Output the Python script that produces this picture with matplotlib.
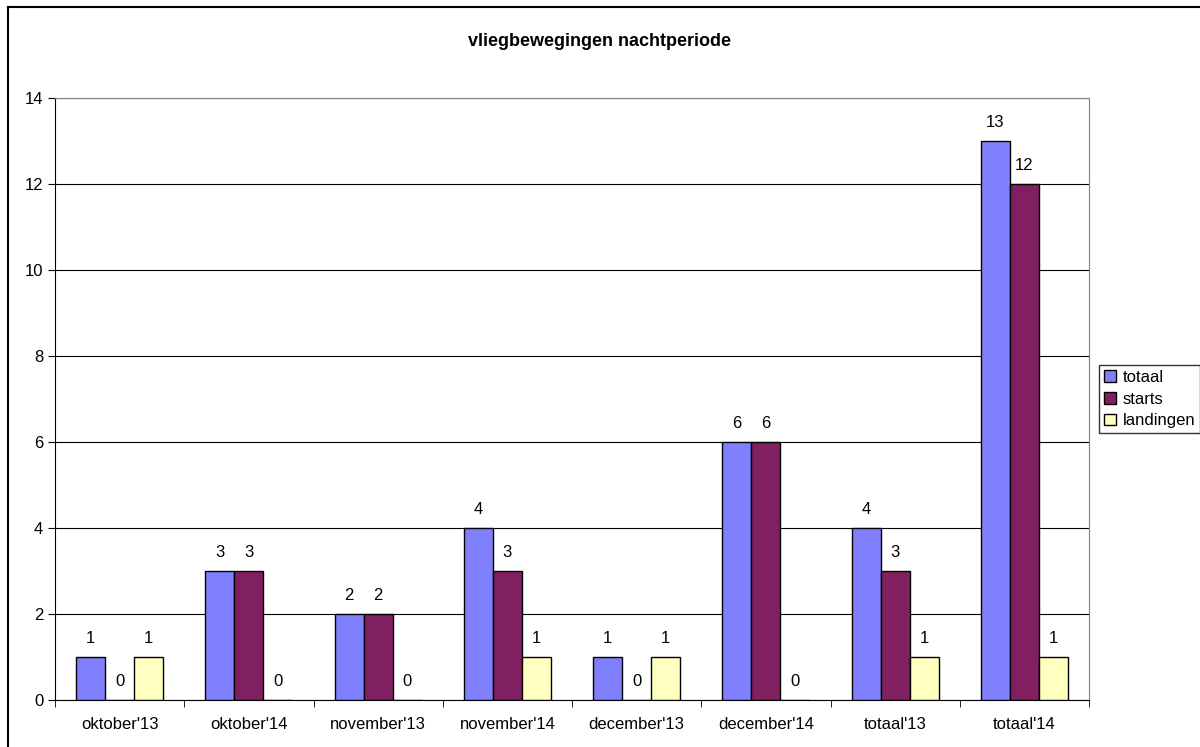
import matplotlib.pyplot as plt
import numpy as np
from matplotlib.lines import Line2D

categories = ["oktober'13", "oktober'14", "november'13", "november'14",
              "december'13", "december'14", "totaal'13", "totaal'14"]
totaal = [1, 3, 2, 4, 1, 6, 4, 13]
starts = [0, 3, 2, 3, 0, 6, 3, 12]
landingen = [1, 0, 0, 1, 1, 0, 1, 1]

plt.rcParams['font.family'] = ['Liberation Sans', 'DejaVu Sans']

fig = plt.figure(figsize=(12, 7.47), dpi=100)
ax = fig.add_axes([55 / 1200, 1 - 700 / 747, 1034 / 1200, 602 / 747])

x = np.arange(len(categories))
w = 0.225
series = [(totaal, '#8080FF', 'totaal'),
          (starts, '#802060', 'starts'),
          (landingen, '#FFFFC0', 'landingen')]
for i, (vals, col, lab) in enumerate(series):
    pos = x + (i - 1) * w
    ax.bar(pos, vals, width=w, color=col, edgecolor='black', linewidth=1, label=lab, zorder=3)
    for p, v in zip(pos, vals):
        ax.text(p, v + 0.25, str(v), ha='center', va='bottom', fontsize=12)

ax.set_xlim(-0.5, len(categories) - 0.5)
ax.set_ylim(0, 14)
ax.set_yticks(range(0, 15, 2))
ax.set_xticks(x)
ax.set_xticklabels(categories, fontsize=12)
ax.set_xticks(np.arange(-0.5, len(categories), 1), minor=True)
ax.tick_params(axis='x', which='major', length=0, pad=12)
ax.tick_params(axis='x', which='minor', length=5, direction='out', color='black')
ax.tick_params(axis='y', labelsize=12, length=5, direction='out')
ax.yaxis.grid(True, color='black', linewidth=0.8, zorder=0)
ax.set_axisbelow(True)
ax.spines['left'].set_color('black')
ax.spines['bottom'].set_color('black')
ax.spines['top'].set_color('#808080')
ax.spines['right'].set_color('#808080')

fig.text(0.5, 1 - 42 / 747, 'vliegbewegingen nachtperiode', ha='center', va='center',
         fontsize=13, fontweight='bold')

leg = ax.legend(loc='center left', bbox_to_anchor=(1.002, 0.5), fontsize=12, frameon=True,
                fancybox=False, edgecolor='black', handlelength=0.7, handleheight=0.7,
                handletextpad=0.4, borderpad=0.3, labelspacing=0.4)
leg.get_frame().set_linewidth(1)

fig.add_artist(Line2D([8 / 1200, 8 / 1200], [0, 1 - 7 / 747], color='black', linewidth=1.5))
fig.add_artist(Line2D([8 / 1200, 1], [1 - 7 / 747, 1 - 7 / 747], color='black', linewidth=1.5))

fig.savefig('out.png', dpi=100)
